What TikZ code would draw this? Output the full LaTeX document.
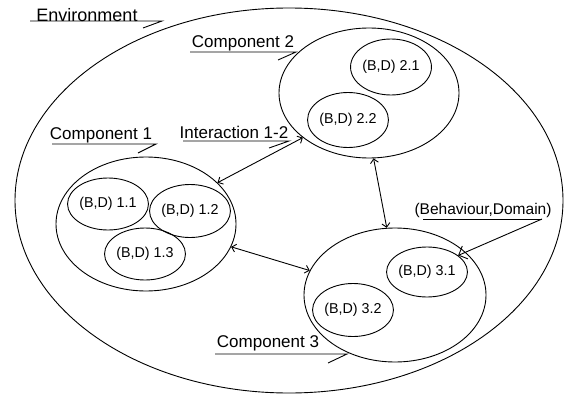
\documentclass[tikz,border=0pt]{standalone}
\usepackage{fontspec}
\setmainfont{Liberation Sans}
\usetikzlibrary{shapes.geometric,arrows.meta}
\begin{document}
\begin{tikzpicture}[x=1pt,y=-1pt,line width=0.9pt,
  ell/.style={draw,ellipse,inner sep=0pt},
  inner/.style={ell,font=\fontsize{14.3}{14}\selectfont},
  lbl/.style={inner sep=0pt,font=\fontsize{17}{17}\selectfont},
  conn/.style={{Straight Barb[length=4pt,width=8pt]}-{Straight Barb[length=4pt,width=8pt]}}]
\useasboundingbox (0,0) rectangle (567,396);
% environment
\node[ell,minimum width=548pt,minimum height=385pt] (env) at (289,200.5) {};
% components
\node[ell,minimum width=180pt,minimum height=130pt] (c2) at (369,93) {};
\node[ell,minimum width=180pt,minimum height=134pt] (c1) at (146,224) {};
\node[ell,minimum width=182pt,minimum height=134pt] (c3) at (395,295) {};
% inner
\node[inner,minimum width=76pt,minimum height=56pt] (b21) at (391,67) {(B,D) 2.1};
\node[inner,minimum width=76pt,minimum height=55pt] (b22) at (348,120) {(B,D) 2.2};
\node[inner,minimum width=75pt,minimum height=52pt] (b11) at (108,204) {(B,D) 1.1};
\node[inner,minimum width=76pt,minimum height=53pt] (b12) at (190,211) {(B,D) 1.2};
\node[inner,minimum width=76pt,minimum height=52pt] (b13) at (145,254) {(B,D) 1.3};
\node[inner,minimum width=76pt,minimum height=50pt] (b31) at (427,272) {(B,D) 3.1};
\node[inner,minimum width=79pt,minimum height=53pt] (b32) at (353,310) {(B,D) 3.2};
% interactions
\draw[conn] (c1.30) -- (c2.214);
\draw[conn] (c1.-15) -- (c3.164);
\draw[conn] (c2.-86) -- (c3.97);
% labels
\node[lbl,font=\fontsize{18}{18}\selectfont] (lenv) at (87,15) {Environment};
\coordinate (uenv1) at (30,21); \coordinate (uenv2) at (162,21); \coordinate (tenv) at (143,28);
\draw (uenv1) -- (uenv2) -- (tenv);
\node[lbl] (lc2) at (243,43) {Component 2};
\coordinate (uc21) at (190,52); \coordinate (uc22) at (296,52); \coordinate (tc2) at (278,60);
\draw (uc21) -- (uc22) -- (tc2);
\node[lbl] (lint) at (234,132) {Interaction 1-2};
\coordinate (ui1) at (183,141); \coordinate (ui2) at (289,141); \coordinate (ti) at (269,148);
\draw (ui1) -- (ui2) -- (ti);
\node[lbl] (lc1) at (101,135) {Component 1};
\coordinate (uc11) at (52,144); \coordinate (uc12) at (156,144); \coordinate (tc1) at (138,153);
\draw (uc11) -- (uc12) -- (tc1);
\node[lbl] (lc3) at (268,343) {Component 3};
\coordinate (uc31) at (215,354); \coordinate (uc32) at (347,354); \coordinate (tc3) at (328,363);
\draw (uc31) -- (uc32) -- (tc3);
\node[lbl,font=\fontsize{15.5}{15}\selectfont] (lbd) at (483,210) {(Behaviour,Domain)};
\coordinate (ubd1) at (423,219); \coordinate (ubd2) at (542,219);
\draw (ubd1) -- (ubd2);
\draw[-{Straight Barb[length=7pt,width=14pt]}] (ubd2) -- (b31.28);
\end{tikzpicture}
\end{document}
